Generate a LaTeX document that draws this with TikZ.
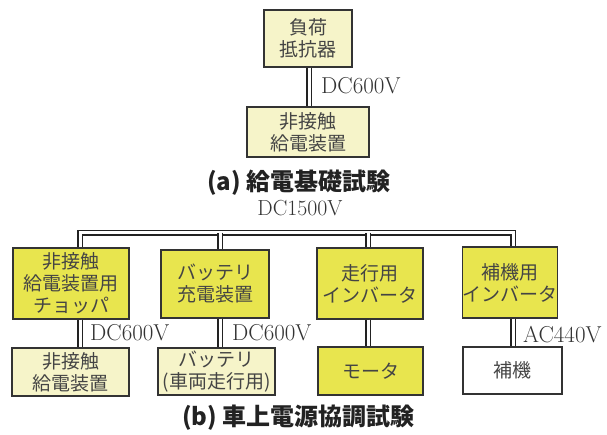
\documentclass[tikz,border=0pt]{standalone}
\usepackage{fontspec}
\newfontfamily\jp{Noto Sans CJK JP}
\definecolor{ystrong}{HTML}{E8E54E}
\definecolor{ylight}{HTML}{F6F4C9}
\definecolor{edgec}{HTML}{333333}
\definecolor{linec}{HTML}{222222}
\definecolor{txtc}{HTML}{444444}
\definecolor{capc}{HTML}{222222}
\tikzset{
  box/.style={draw=edgec, line width=1.2pt, text=txtc, font=\jp\fontsize{19}{22}\selectfont, align=center, inner sep=0pt},
  strong/.style={box, fill=ystrong},
  light/.style={box, fill=ylight},
  plain/.style={box, fill=white},
  dbl/.style={draw=linec, line width=1.5pt, double=white, double distance=3pt},
  volt/.style={text=edgec, font=\fontsize{23}{26}\selectfont, inner sep=0pt},
  captext/.style={text=capc, font=\jp\bfseries\fontsize{24}{28}\selectfont, inner sep=0pt}
}
\begin{document}
\begin{tikzpicture}[x=1pt,y=-1pt]
\useasboundingbox (0,0) rectangle (607,435);
% (a)
\node[light, minimum width=88pt, minimum height=57pt] (load) at (308,38.5) {負荷\\抵抗器};
\node[light, minimum width=122pt, minimum height=50pt] (feedA) at (308,132) {非接触\\給電装置};
\coordinate (va) at (309,0);
\draw[dbl] (load.south -| va) -- (feedA.north -| va);
\node[volt, anchor=west] (lblA) at (321,86) {DC600V};
\node[captext] (capA) at (299,183) {(a) 給電基礎試験};
% (b)
\node[strong, minimum width=116pt, minimum height=71pt] (chop) at (71,283.5) {非接触\\給電装置用\\チョッパ};
\node[light, minimum width=117pt, minimum height=48pt] (feedB) at (70.5,372) {非接触\\給電装置};
\node[strong, minimum width=108pt, minimum height=68pt] (chg) at (215,284) {バッテリ\\充電装置};
\node[light, minimum width=117pt, minimum height=47pt] (batt) at (216.5,371.5) {バッテリ\\(車両走行用)};
\node[strong, minimum width=106pt, minimum height=71pt] (inv1) at (370,283.5) {走行用\\インバータ};
\node[strong, minimum width=105pt, minimum height=48pt] (motor) at (370.5,371) {モータ};
\node[strong, minimum width=88pt, minimum height=71pt] (inv2) at (510,282.5) {補機用\\インバータ};
\node[plain, minimum width=99pt, minimum height=47pt] (aux) at (512.5,370.5) {補機};
\coordinate (v1) at (80,233);
\coordinate (v2) at (220,233);
\coordinate (v3) at (368,233);
\coordinate (v4) at (513,233);
\draw[dbl] (chop.north -| v1) -- (v1) -- (v4) -- (inv2.north -| v4);
\draw[dbl] (v2) -- (chg.north -| v2);
\draw[dbl] (v3) -- (inv1.north -| v3);
\draw[dbl] (chop.south -| v1) -- (feedB.north -| v1);
\draw[dbl] (chg.south -| v2) -- (batt.north -| v2);
\draw[dbl] (inv1.south -| v3) -- (motor.north -| v3);
\draw[dbl] (inv2.south -| v4) -- (aux.north -| v4);
\node[volt, font=\fontsize{21.8}{25}\selectfont] (lblBus) at (300,208) {DC1500V};
\node[volt, anchor=west] (lbl1) at (90,333) {DC600V};
\node[volt, anchor=west] (lbl2) at (232,333) {DC600V};
\node[volt, anchor=west] (lbl3) at (523,335) {AC440V};
\node[captext] (capB) at (298.5,418) {(b) 車上電源協調試験};
\end{tikzpicture}
\end{document}
